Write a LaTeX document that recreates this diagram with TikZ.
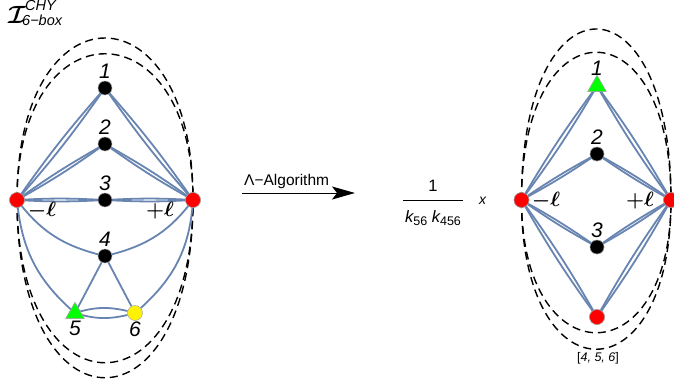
\documentclass[tikz,border=0pt]{standalone}
\usepackage{amsmath, amssymb}
\usepackage{xcolor}
\usepackage{fontspec}
\setmainfont{Liberation Sans}
\usepackage{tikz}
\usetikzlibrary{arrows.meta, positioning, shapes.geometric}
\definecolor{edgeblue}{RGB}{104,132,176}
\definecolor{vgreen}{RGB}{0,255,0}

\begin{document}
\begin{tikzpicture}[
  x=1pt, y=-1pt,
  blackv/.style={circle, draw=gray!70, line width=0.5pt, fill=black, minimum size=14pt, inner sep=0pt},
  redv/.style={circle, draw=gray!70, line width=0.5pt, fill=red, minimum size=15pt, inner sep=0pt},
  yellowv/.style={circle, draw=gray!70, line width=0.5pt, fill=yellow, minimum size=15pt, inner sep=0pt},
  greenv/.style={regular polygon, regular polygon sides=3, draw=gray!70, line width=0.5pt, fill=vgreen, minimum size=21pt, inner sep=0pt},
  wire/.style={edgeblue, line width=1.8pt},
  gluon/.style={black, line width=1.4pt, dash pattern=on 8pt off 5pt},
  num/.style={font=\fontsize{21}{21}\selectfont\itshape, inner sep=0pt},
  loopl/.style={font=\fontsize{21}{21}\selectfont, inner sep=0pt},
  arr/.style={-{Stealth[length=23pt, width=13pt, inset=5pt]}, black, line width=1pt},
  small/.style={font=\fontsize{16.5}{17}\selectfont, inner sep=0pt},
  titlesub/.style={font=\fontsize{14.5}{15}\selectfont\itshape, inner sep=0pt, anchor=west}
]
  \useasboundingbox (0,0) rectangle (674,388);

  % left graph
  \node[redv] (l) at (17,200) {};
  \node[redv] (r) at (193,200) {};
  \node[blackv] (v1) at (105,88) {};
  \node[blackv] (v2) at (105,144) {};
  \node[blackv] (v3) at (105,200) {};
  \node[blackv] (v4) at (105,256) {};
  \node[greenv] (v5) at (75,313) {};
  \node[yellowv] (v6) at (135,313) {};

  % dashed arcs
  \draw[gluon] (l.center) .. controls (17,5) and (193,5) .. (r.center);
  \draw[gluon] (l.center) .. controls (17,-16) and (193,-16) .. (r.center);
  \draw[gluon] (l.center) .. controls (17,417) and (193,417) .. (r.center);
  \draw[gluon] (l.center) .. controls (17,437) and (193,437) .. (r.center);

  % propagators
  \foreach \a in {l,r} {
    \foreach \b in {v1,v2,v3} {
      \draw[wire] (\a.center) to[bend left=3] (\b);
      \draw[wire] (\a.center) to[bend right=3] (\b);
    }
  }
  \draw[wire] (l.center) to[bend right=19] (v4);
  \draw[wire] (r.center) to[bend left=19] (v4);
  \draw[wire] (l.center) to[bend right=22] (v5.center);
  \draw[wire] (r.center) to[bend left=22] (v6);
  \draw[wire] (v4) -- (v5.center);
  \draw[wire] (v4) -- (v6);
  \draw[wire] (v5.center) to[bend left=15] (v6);
  \draw[wire] (v5.center) to[bend right=15] (v6);

  % redraw vertices over the lines
  \node[redv] at (l) {};
  \node[redv] at (r) {};
  \node[greenv] at (v5) {};

  % labels
  \node[num, above=2pt of v1] {1};
  \node[num, above=2pt of v2] {2};
  \node[num, above=2pt of v3] {3};
  \node[num, above=2pt of v4] {4};
  \node[num, below=2pt of v5] {5};
  \node[num, below=1pt of v6] {6};
  \node[loopl] (ml) at (42,211) {$\boldsymbol{-\ell}$};
  \node[loopl] (pl) at (160,211) {$\boldsymbol{+\ell}$};
  \node[font=\fontsize{23}{23}\selectfont, inner sep=0pt, anchor=west] (title) at (8,15) {$\boldsymbol{\mathcal{I}}$};
  \node[titlesub] (titlesup) at (25,6) {CHY};
  \node[titlesub] (titlelow) at (22,20) {6−box};

  % arrow and prefactor
  \coordinate (a0) at (242,193);
  \coordinate (a1) at (355,193);
  \draw[arr] (a0) -- (a1);
  \node[small, font=\fontsize{15.5}{16}\selectfont, anchor=south west] (alg) at (244,189) {Λ−Algorithm};
  \node[small] (one) at (433,186) {1};
  \node[small] (den) at (433,218) {\itshape k\raisebox{-3pt}{\fontsize{12.5}{13}\selectfont\upshape 56} k\raisebox{-3pt}{\fontsize{12.5}{13}\selectfont\upshape 456}};
  \coordinate (f0) at (403,200.5);
  \coordinate (f1) at (463,200.5);
  \draw[black, line width=0.9pt] (f0) -- (f1);
  \node[small, right=16pt of f1, font=\fontsize{14}{14}\selectfont\itshape] (x) {x};

  % right graph
  \node[redv] (rl) at (521.5,200) {};
  \node[redv] (rr) at (671,200) {};
  \node[greenv] (w1) at (597,86) {};
  \node[blackv] (w2) at (597,154) {};
  \node[blackv] (w3) at (597,247) {};
  \node[redv] (w4) at (597,317) {};

  \draw[gluon] (rl.center) .. controls (521.5,3) and (671,3) .. (rr.center);
  \draw[gluon] (rl.center) .. controls (521.5,-28) and (671,-28) .. (rr.center);
  \draw[gluon] (rl.center) .. controls (521.5,377) and (671,377) .. (rr.center);
  \draw[gluon] (rl.center) .. controls (521.5,399) and (671,399) .. (rr.center);

  \foreach \a in {rl,rr} {
    \foreach \b in {w1,w2,w3,w4} {
      \draw[wire] (\a.center) to[bend left=3] (\b.center);
      \draw[wire] (\a.center) to[bend right=3] (\b.center);
    }
  }
  \node[redv] at (rl) {};
  \node[redv] at (rr) {};
  \node[greenv] at (w1) {};
  \node[blackv] at (w2) {};
  \node[blackv] at (w3) {};
  \node[redv] at (w4) {};

  \node[num, above=-1pt of w1] {1};
  \node[num, above=2pt of w2] {2};
  \node[num, above=2pt of w3] {3};
  \node[loopl] (rml) at (546,201) {$\boldsymbol{-\ell}$};
  \node[loopl] (rpl) at (640,201) {$\boldsymbol{+\ell}$};
  \node[font=\fontsize{12.5}{13}\selectfont, inner sep=0pt] (set) at (598,358) {[\textit{4, 5, 6}]};
\end{tikzpicture}
\end{document}
